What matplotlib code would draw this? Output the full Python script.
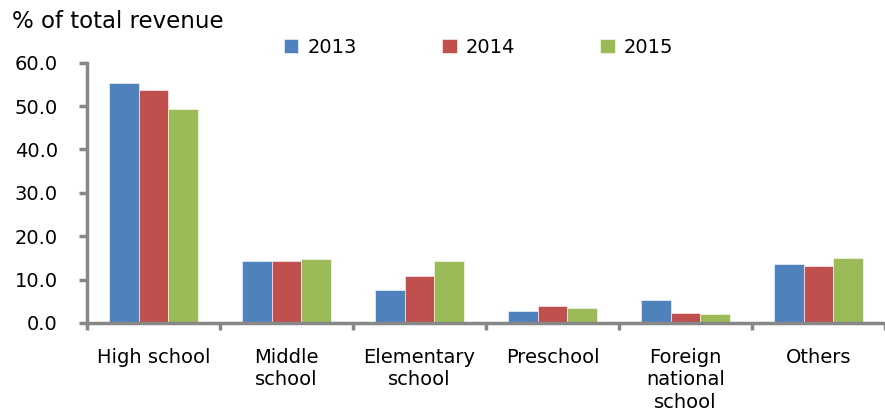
import numpy as np
import matplotlib.pyplot as plt

categories = ['High school', 'Middle\nschool', 'Elementary\nschool', 'Preschool',
              'Foreign\nnational\nschool', 'Others']
years = ['2013', '2014', '2015']
v2013 = [55.3, 14.3, 7.7, 2.8, 5.2, 13.5]
v2014 = [53.6, 14.3, 10.8, 4.0, 2.3, 13.2]
v2015 = [49.3, 14.7, 14.3, 3.4, 2.0, 14.9]
colors = ['#4f81bd', '#c0504d', '#9bbb59']

fig = plt.figure(figsize=(8.85, 4.12), dpi=100)
ax = fig.add_axes([87 / 885, 1 - 323 / 412, 798 / 885, (323 - 62.7) / 412])

x = np.arange(len(categories))
w = 0.222
for i, (vals, yr) in enumerate(zip([v2013, v2014, v2015], years)):
    ax.bar(x + (i - 1) * w, vals, width=w, color=colors[i], label=yr,
           edgecolor='white', linewidth=0.4)

ax.set_xlim(-0.5, len(categories) - 0.5)
ax.set_ylim(0, 60)
ax.set_yticks(np.arange(0, 61, 10))
ax.set_yticklabels(['%.1f' % t for t in np.arange(0, 61, 10)], fontsize=14)

# category boundaries as ticks, labels centred
ax.set_xticks(np.arange(-0.5, len(categories)), minor=False)
ax.set_xticklabels([])
ax.set_xticks(x, minor=True)
ax.set_xticklabels(categories, minor=True, fontsize=14, va='top', linespacing=1.22)
ax.tick_params(axis='x', which='minor', length=0, pad=18)
ax.tick_params(axis='x', which='major', length=5, width=2.5, color='#878787', direction='out')
ax.tick_params(axis='y', length=6, width=2.5, color='#878787', direction='out', pad=15)

for s in ['top', 'right']:
    ax.spines[s].set_visible(False)
for s in ['left', 'bottom']:
    ax.spines[s].set_color('#878787')
    ax.spines[s].set_linewidth(2.5)

fig.text(12 / 885, 1 - 22 / 412, '% of total revenue', fontsize=16.5, va='center', ha='left')

ax.legend(loc='center left', bbox_to_anchor=(0.237, 1.06), ncol=3, frameon=False,
          fontsize=14, handlelength=0.75, handleheight=0.75, columnspacing=4.4,
          handletextpad=0.45, borderaxespad=0)

fig.savefig('out.png', dpi=100)
